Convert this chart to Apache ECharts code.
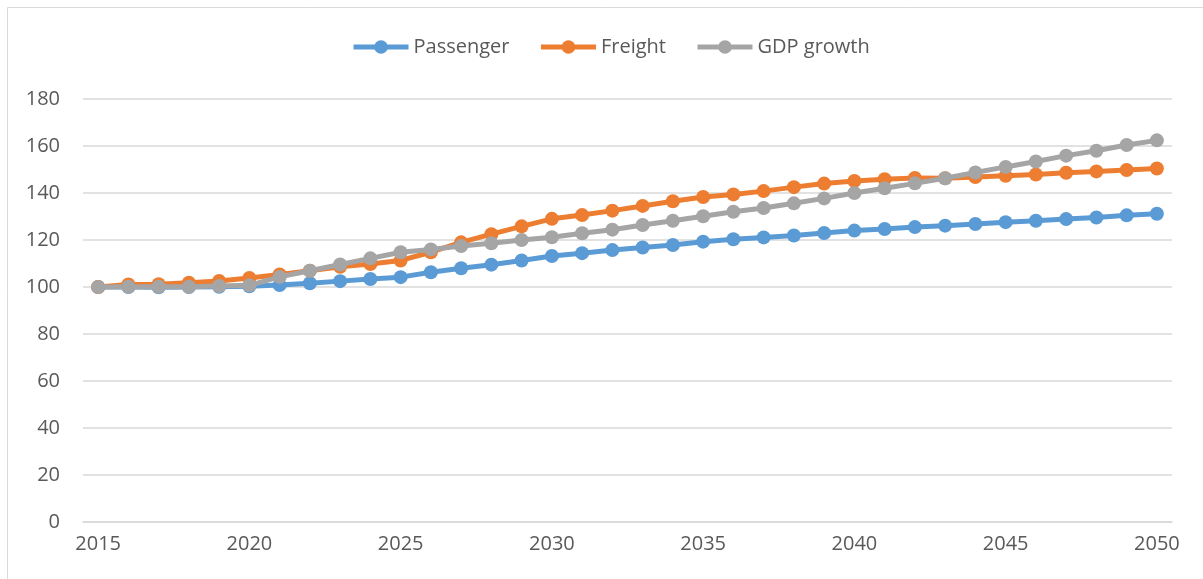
<!DOCTYPE html>
<html>
<head>
<meta charset="utf-8">
<script src="https://cdn.jsdelivr.net/npm/echarts@6/dist/echarts.min.js"></script>
<style>
  html, body { margin: 0; padding: 0; background: #ffffff; }
  #chart { width: 1203px; height: 579px; }
</style>
</head>
<body>
<div id="chart"></div>
<script>
const years = ['2015','2016','2017','2018','2019','2020','2021','2022','2023','2024','2025','2026','2027','2028','2029','2030','2031','2032','2033','2034','2035','2036','2037','2038','2039','2040','2041','2042','2043','2044','2045','2046','2047','2048','2049','2050'];
const passenger = [100, 100.0, 99.9, 100.0, 100.1, 100.3, 100.8, 101.6, 102.5, 103.4, 104.2, 106.3, 108.0, 109.5, 111.3, 113.2, 114.4, 115.7, 116.8, 117.9, 119.3, 120.3, 121.1, 121.9, 123.0, 124.0, 124.7, 125.5, 126.1, 126.8, 127.6, 128.2, 128.9, 129.6, 130.5, 131.2];
const freight = [100, 101.1, 101.2, 101.8, 102.6, 103.8, 105.3, 106.9, 108.6, 109.8, 111.3, 114.8, 119.0, 122.5, 125.8, 129.0, 130.6, 132.5, 134.5, 136.5, 138.3, 139.4, 140.8, 142.5, 144.0, 145.1, 145.9, 146.4, 146.3, 146.8, 147.3, 147.9, 148.6, 149.2, 149.8, 150.4];
const gdpGrowth = [100, 100.1, 100.1, 100.1, 100.4, 100.7, 104.3, 106.9, 109.6, 112.2, 114.8, 116.0, 117.4, 118.6, 120.0, 121.2, 122.9, 124.4, 126.4, 128.2, 130.1, 132.0, 133.6, 135.6, 137.7, 140.0, 142.0, 144.1, 146.3, 148.7, 151.1, 153.4, 155.9, 158.0, 160.4, 162.4];
const seriesNames = ['Passenger', 'Freight', 'GDP growth'];
const colors = ['#5B9BD5', '#ED7D31', '#A5A5A5'];

const chart = echarts.init(document.getElementById('chart'), null, { renderer: 'canvas' });
const font = "'Open Sans', 'Noto Sans', sans-serif";
const data = [passenger, freight, gdpGrowth];

chart.setOption({
  animation: false,
  backgroundColor: '#ffffff',
  textStyle: { fontFamily: font },
  graphic: [{
    type: 'rect',
    shape: { x: 7.5, y: 7.5, width: 1400, height: 800 },
    style: { fill: 'none', stroke: '#d9d9d9', lineWidth: 1 },
    silent: true,
    z: -1
  }],
  legend: {
    left: 346,
    top: 32,
    itemWidth: 55,
    itemHeight: 17,
    itemGap: 29,
    lineStyle: { width: 5 },
    textStyle: { color: '#595959', fontSize: 20, fontFamily: font },
    data: seriesNames
  },
  grid: { left: 83, right: 31, top: 99, bottom: 57, containLabel: false },
  xAxis: {
    type: 'category',
    data: years,
    boundaryGap: true,
    axisLine: { show: true, lineStyle: { color: '#d9d9d9', width: 1.5 } },
    axisTick: { show: false },
    axisLabel: { interval: 4, color: '#595959', fontSize: 20, margin: 12, fontFamily: font },
    splitLine: { show: false }
  },
  yAxis: {
    type: 'value',
    min: 0,
    max: 180,
    interval: 20,
    axisLine: { show: false },
    axisTick: { show: false },
    axisLabel: { color: '#595959', fontSize: 20, margin: 23, fontFamily: font },
    splitLine: { show: true, lineStyle: { color: '#d9d9d9', width: 1.5 } }
  },
  series: seriesNames.map((name, i) => ({
    name: name,
    type: 'line',
    data: data[i],
    symbol: 'circle',
    symbolSize: 14,
    showSymbol: true,
    itemStyle: { color: colors[i] },
    lineStyle: { color: colors[i], width: 5 },
    z: 2 + i
  }))
});
</script>
</body>
</html>
